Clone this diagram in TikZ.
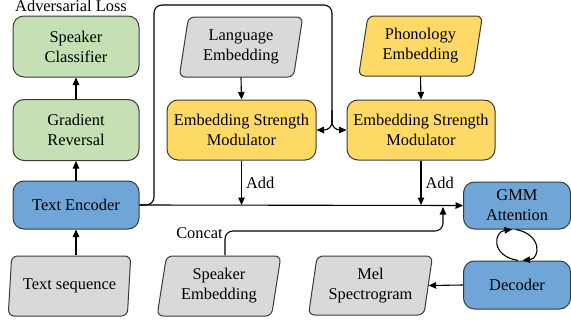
\documentclass[tikz,border=0pt]{standalone}
\usepackage{fontspec}
\setmainfont{Liberation Serif}
\usetikzlibrary{shapes.geometric,arrows.meta}
\definecolor{gfill}{RGB}{197,224,180}
\definecolor{yfill}{RGB}{255,217,102}
\definecolor{bfill}{RGB}{111,166,215}
\definecolor{grayf}{RGB}{217,217,217}
\definecolor{bordc}{RGB}{58,58,58}
\begin{document}
\begin{tikzpicture}[x=1pt,y=-1pt,
  font=\fontsize{16.4}{20}\selectfont,
  box/.style={draw=bordc, line width=1pt, rounded corners=11pt, align=center, inner sep=0pt},
  rbox/.style={box, minimum width=126pt, minimum height=61pt},
  para/.style={trapezium, trapezium left angle=79, trapezium right angle=101,
    trapezium stretches=true, draw=bordc, line width=1pt, rounded corners=6pt,
    align=center, inner sep=0pt, minimum width=124pt, minimum height=60pt},
  arr/.style={-{Triangle[length=7.5pt,width=6.5pt]}, line width=1.1pt},
  lbl/.style={inner sep=0pt}]
\useasboundingbox (0,0) rectangle (571,324);

% nodes
\node[rbox, fill=gfill] (sc) at (76,46.5) {Speaker\\Classifier};
\node[rbox, fill=gfill] (gr) at (76,130) {Gradient\\Reversal};
\node[rbox, fill=bfill, minimum height=48pt] (te) at (76,205) {Text Encoder};
\node[para, fill=grayf, minimum width=123pt] (ts) at (69.5,286) {Text sequence};
\node[para, fill=grayf] (se) at (219,286) {Speaker\\Embedding};
\node[para, fill=grayf] (le) at (241,47) {Language\\Embedding};
\node[para, fill=yfill] (pe) at (420.5,46) {Phonology\\Embedding};
\node[box, fill=yfill, minimum width=149pt, minimum height=60pt] (esm1) at (241.5,130) {Embedding Strength\\Modulator};
\node[box, fill=yfill, minimum width=148pt, minimum height=60pt] (esm2) at (421,130) {Embedding Strength\\Modulator};
\node[box, fill=bfill, minimum width=107pt, minimum height=47pt] (gmm) at (517,205.5) {GMM\\Attention};
\node[box, fill=bfill, minimum width=107pt, minimum height=48pt] (dec) at (517,285) {Decoder};
\node[para, fill=grayf, minimum width=125pt, minimum height=59pt] (mel) at (370.5,285.5) {Mel\\Spectrogram};
\node[lbl, anchor=base] (adv) at (71,11.5) {Adversarial Loss};
\node[lbl] (concat) at (199.5,233) {Concat};

% connectors
\draw[arr] (ts.north -| te.south) -- (te.south);
\draw[arr] (te.north) -- (gr.south);
\draw[arr] (gr.north) -- (sc.south);
\draw[arr] (le.south) -- (esm1.north);
\draw[arr] (pe.south) -- (esm2.north);
\draw[arr] (te.east) -- (gmm.west);
\draw[arr] (esm1.south) -- (esm1.south |- te.east) node[midway, right, inner sep=4pt] {Add};
\draw[arr] (esm2.south) -- (esm2.south |- te.east) node[midway, right, inner sep=4pt] {Add};
\draw[arr, rounded corners=8pt] (te.east) -- (154,205) -- (154,5) -- (332,5) -- (332,130) -- (esm1.east);
\draw[arr, rounded corners=8pt] (332,110) -- (332,130) -- (esm2.west);
\draw[arr, rounded corners=8pt] ([xshift=6pt]se.north) |- (443,231) -- (443,207);
\draw[arr] (dec.west) -- (mel.east);
\draw[arr] ([xshift=1pt]dec.north) .. controls +(-28,-5) and +(-18,2) .. ([xshift=-5pt]gmm.south);
\draw[arr] ([xshift=-1pt]gmm.south) .. controls +(26,5) and +(18,-2) .. ([xshift=5.5pt]dec.north);
\end{tikzpicture}
\end{document}
